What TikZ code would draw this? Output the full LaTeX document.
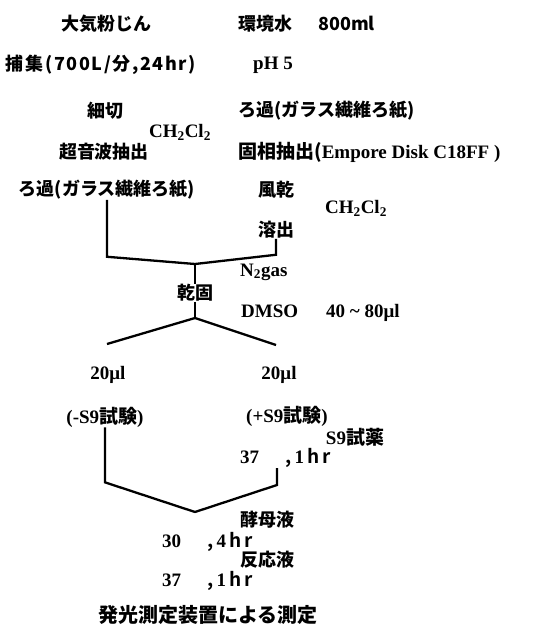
\documentclass[tikz,border=0pt]{standalone}
\usepackage{fontspec}
\setmainfont{Liberation Serif}
\newfontfamily\jpfont{Noto Sans CJK JP Bold}
\newcommand{\jpt}[1]{{\jpfont #1}}
\newcommand{\jpl}[1]{{\jpfont\mdseries #1}}
\usepackage{tikz}
\usetikzlibrary{calc, positioning}

\begin{document}
\begin{tikzpicture}[
  x=1pt, y=-1pt,
  jp/.style={font=\jpfont\bfseries\fontsize{18}{20}\selectfont, inner sep=0pt},
  tm/.style={font=\bfseries\fontsize{19}{21}\selectfont, inner sep=0pt},
  flow/.style={line width=2.3pt, line join=miter},
]
\useasboundingbox (0,0) rectangle (536,630);

\node[jp] (air) at (106,24) {大気粉じん};
\node[jp, anchor=west] (water) at (238,24) {環境水\hspace{26pt}800ml};
\node[jp, font=\jpfont\bfseries\fontsize{18}{20}\selectfont\addfontfeature{LetterSpace=9}] (trap) at (101,65) {捕集(700L/分,24hr)};
\node[tm] (ph) at (273,65) {pH 5};
\node[jp] (cut) at (105,111) {細切};
\node[jp, anchor=west] (filtR) at (238,111) {ろ過(ガラス繊維ろ紙)};
\node[tm] (dcmL) at (180,132) {CH$_\mathbf{2}$Cl$_\mathbf{2}$};
\node[jp] (sonic) at (104,152) {超音波抽出};
\node[tm, anchor=west] (spe) at (238,152) {\jpt{固相抽出(}Empore Disk C18FF )};
\node[jp] (filtL) at (107,190) {ろ過(ガラス繊維ろ紙)};
\node[jp] (dry) at (276,190) {風乾};
\node[tm] (dcmR) at (356,208) {CH$_\mathbf{2}$Cl$_\mathbf{2}$};
\node[jp] (elute) at (276,230) {溶出};
\node[tm, anchor=west] (n2) at (240,272) {N$_\mathbf{2}$gas};
\node[jp] (evap) at (195,293) {乾固};
\node[tm, anchor=west] (dmso) at (241,313) {DMSO\hspace{28pt}40 \textasciitilde{} 80μl};
\node[tm] (volL) at (108,375) {20μl};
\node[tm] (volR) at (279,375) {20μl};
\node[tm] (minus) at (105,417) {(-S9\jpt{試験})};
\node[tm] (plus) at (287,416) {(+S9\jpt{試験})};
\node[tm] (s9) at (355,437) {S9\jpt{試薬}};
\node[tm, anchor=west] (incR) at (240,458) {37\hspace{26pt}\jpl{,}\,1\,\jpl{h\,r}};
\node[jp, anchor=west] (yeast) at (240,520) {酵母液};
\node[tm, anchor=west] (inc30) at (162,542) {30\hspace{26pt}\jpl{,}\,4\,\jpl{h\,r}};
\node[jp, anchor=west] (react) at (240,560) {反応液};
\node[tm, anchor=west] (inc37) at (162,581) {37\hspace{26pt}\jpl{,}\,1\,\jpl{h\,r}};
\node[jp, font=\jpfont\bfseries\fontsize{20}{22}\selectfont] (lum) at (208,615) {発光測定装置による測定};

\coordinate (j1) at (195,264);
\coordinate (s1) at (195,318);
\coordinate (endL) at (107,344);
\coordinate (endR) at (276,345);
\coordinate (top2) at (277,468);
\coordinate (j2) at (195,512);

\draw[flow] (filtL.south) -- ++(0,57) -- (j1);
\draw[flow] (elute.south) -- ++(0,16) -- (j1);
\draw[flow] (j1) -- (evap.north);
\draw[flow] (evap.south) -- (s1);
\draw[flow] (endL) -- (s1) -- (endR);
\draw[flow] (minus.south) -- ++(0,55) -- (j2);
\draw[flow] (top2) -- ++(0,17) -- (j2);
\end{tikzpicture}
\end{document}
